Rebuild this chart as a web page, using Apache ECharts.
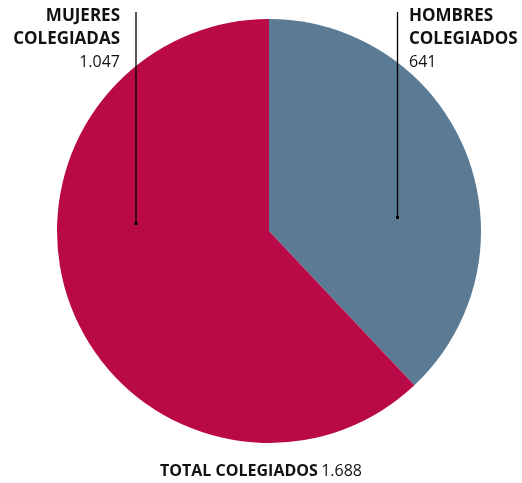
<!DOCTYPE html>
<html><head><meta charset="utf-8">
<script src="https://cdn.jsdelivr.net/npm/echarts@6/dist/echarts.min.js"></script>
<style>html,body{margin:0;padding:0;background:#fff}#c{width:522px;height:483px}</style>
</head><body><div id="c"></div>
<script>
const categories = ['HOMBRES\nCOLEGIADOS', 'MUJERES\nCOLEGIADAS'];
const values = [641, 1047];
const valueLabels = ['641', '1.047'];
const totalLabel = 'TOTAL COLEGIADOS';
const totalValue = '1.688';
const colors = ['#5B7B94', '#B90A47'];

const chart = echarts.init(document.getElementById('c'), null, {renderer: 'canvas'});
const font = '"Open Sans", "Noto Sans", sans-serif';
chart.setOption({
  animation: false,
  series: [{
    type: 'pie',
    z: 1,
    center: [269, 231],
    radius: [0, 212],
    startAngle: 90,
    clockwise: true,
    label: {show: false},
    labelLine: {show: false},
    emphasis: {disabled: true},
    data: categories.map((c, i) => ({name: c, value: values[i], itemStyle: {color: colors[i]}}))
  }],
  graphic: {elements: [
    {type: 'line', z: 100, shape: {x1: 136, y1: 12, x2: 136, y2: 224}, style: {stroke: '#000', lineWidth: 1.3}},
    {type: 'rect', z: 100, shape: {x: 134.5, y: 222, width: 3, height: 3}, style: {fill: '#000'}},
    {type: 'line', z: 100, shape: {x1: 397.5, y1: 12, x2: 397.5, y2: 218}, style: {stroke: '#000', lineWidth: 1.3}},
    {type: 'rect', z: 100, shape: {x: 396, y: 216, width: 3, height: 3}, style: {fill: '#000'}},
    {type: 'text', z: 100, right: 522 - 120, top: 8, style: {
      text: '{b|' + categories[1].split('\n').join('}\n{b|') + '}\n{n|' + valueLabels[1] + '}',
      align: 'right',
      rich: {b: {font: 'bold 17px ' + font, fill: '#111', lineHeight: 23, align: 'right'},
             n: {font: '16px ' + font, fill: '#111', lineHeight: 23, align: 'right'}}
    }},
    {type: 'text', z: 100, left: 409, top: 8, style: {
      text: '{b|' + categories[0].split('\n').join('}\n{b|') + '}\n{n|' + valueLabels[0] + '}',
      rich: {b: {font: 'bold 17px ' + font, fill: '#111', lineHeight: 23},
             n: {font: '16px ' + font, fill: '#111', lineHeight: 23}}
    }},
    {type: 'text', z: 100, left: 'center', top: 463, style: {
      text: '{b|' + totalLabel + '} {n|' + totalValue + '}',
      rich: {b: {font: 'bold 16px ' + font, fill: '#111'},
             n: {font: '16px ' + font, fill: '#111'}}
    }}
  ]}
});
</script></body></html>
